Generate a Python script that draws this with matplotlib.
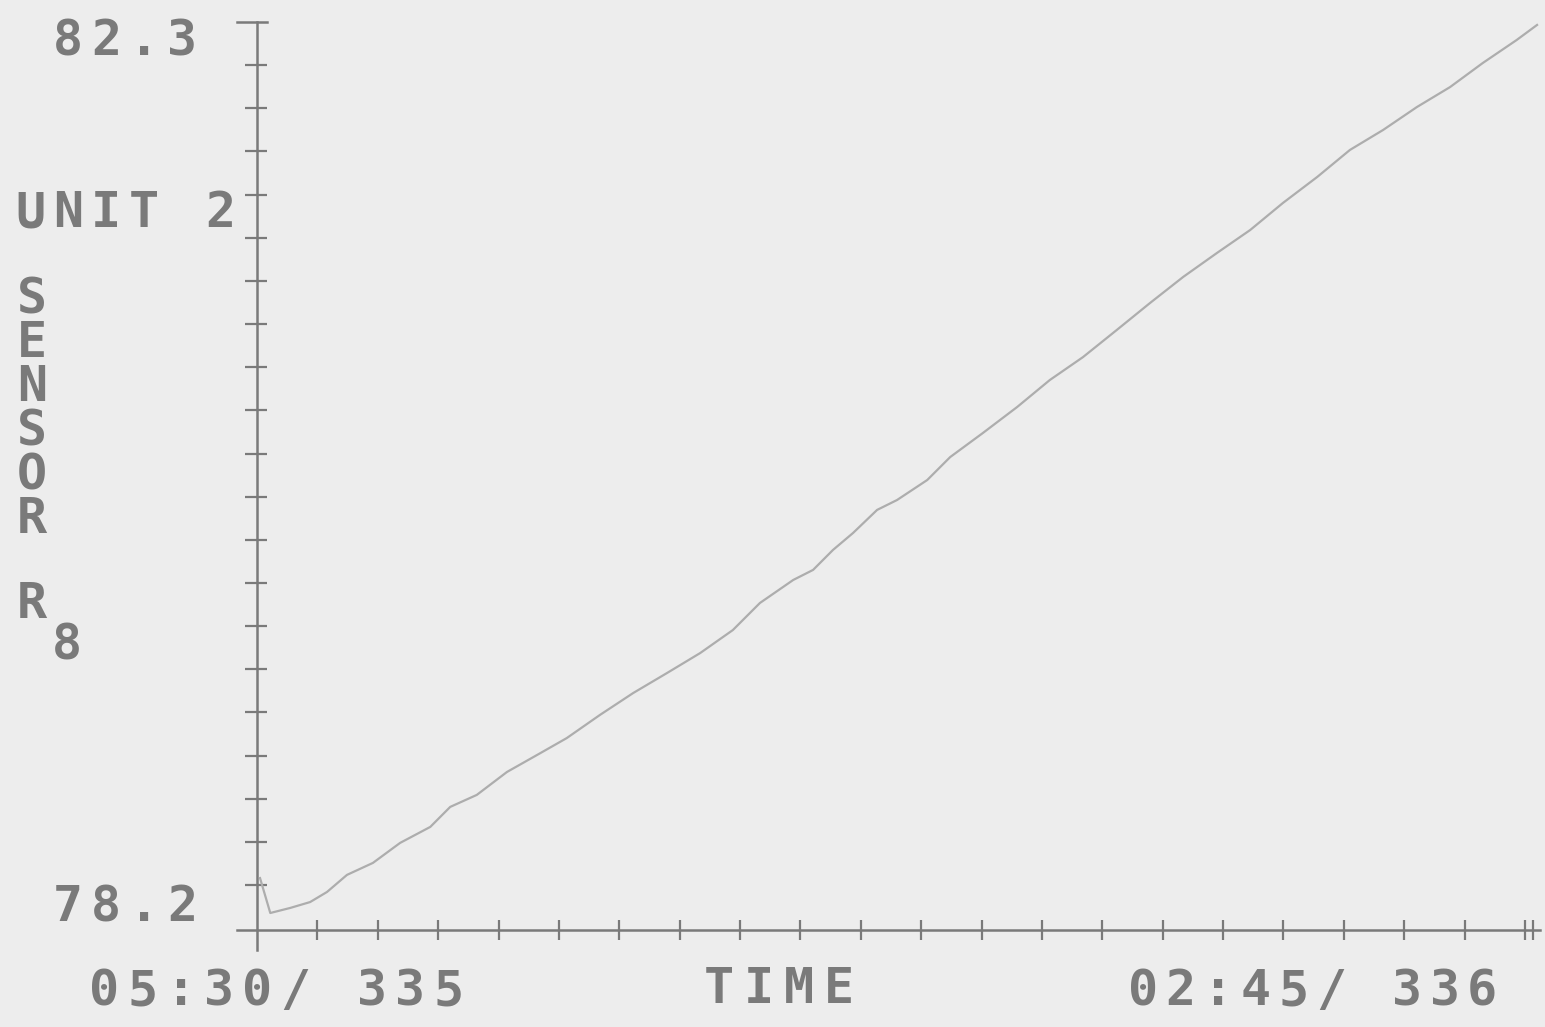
import matplotlib
matplotlib.use("Agg")
import matplotlib.pyplot as plt
import numpy as np

# hours after 05:30 on day 335, sensor reading
hours = [0.05, 0.22, 0.55, 0.88, 1.16, 1.49, 1.92, 2.37, 2.87, 3.20, 3.64, 4.14,
         4.64, 5.13, 5.68, 6.23, 6.79, 7.34, 7.88, 8.33, 8.88, 9.21, 9.54, 9.87,
         10.27, 10.60, 11.10, 11.48, 12.02, 12.59, 13.13, 13.68, 14.24, 14.79,
         15.34, 15.90, 16.45, 16.99, 17.56, 18.10, 18.65, 19.21, 19.76, 20.30,
         20.86, 21.20]
sensor = [78.233, 78.067, 78.091, 78.119, 78.167, 78.248, 78.305, 78.400, 78.476,
          78.571, 78.628, 78.737, 78.818, 78.898, 79.008, 79.112, 79.207, 79.302,
          79.411, 79.540, 79.649, 79.697, 79.792, 79.872, 79.982, 80.029, 80.124,
          80.233, 80.347, 80.471, 80.599, 80.708, 80.837, 80.965, 81.089, 81.203,
          81.312, 81.440, 81.564, 81.692, 81.787, 81.896, 81.991, 82.105, 82.214,
          82.286]

y_min = 78.2
y_max = 82.3
y_labels = ["78.2", "82.3"]
x_labels = ["05:30/ 335", "02:45/ 336"]
x_title = "TIME"
y_title = ["UNIT 2", "SENSOR", "R", "8"]
span_hours = 21.25

W, H = 1545, 1027
bg = "#ededed"
ink = "#7a7a7a"
curve = "#adadad"

fig = plt.figure(figsize=(W / 100, H / 100), dpi=100, facecolor=bg)
ax = fig.add_axes([0, 0, 1, 1])
ax.set_facecolor(bg)
ax.axis("off")

# pixel layout of the old plotter page
x0_px, hour_px = 257, 60.38
y0_px, unit_px = 885, 863 / (y_max - y_min)
ax.set_xlim(-x0_px / hour_px, (W - x0_px) / hour_px)
ax.set_ylim(y_min - (H - y0_px) / unit_px, y_min + y0_px / unit_px)

px_h = 1 / hour_px
px_v = 1 / unit_px
base = y_min - 45 * px_v

# axes
ax.plot([0, 0], [y_min - 65 * px_v, y_max], color=ink, lw=1.8)
ax.plot([-20 * px_h, 10 * px_h], [y_max, y_max], color=ink, lw=1.8)
ax.plot([-20 * px_h, span_hours], [base, base], color=ink, lw=1.8)
yt = np.linspace(y_min, y_max, 21)
ax.hlines(yt[:-1], -12 * px_h, 10 * px_h, color=ink, lw=1.6)
xt = list(range(1, 22)) + [21.13]
ax.vlines(xt, base - 10 * px_v, base + 10 * px_v, color=ink, lw=1.6)

ax.plot(hours, sensor, color=curve, lw=1.6)


def mono(x, y, s, step=38):
    # one character at a time, like the plotter did
    for i, ch in enumerate(s):
        if ch == " ":
            continue
        fig.text((x + i * step) / W, 1 - y / H, ch, ha="center", va="center",
                 family="DejaVu Sans Mono", weight="bold", fontsize=36, color=ink)


mono(68, 41, y_labels[1])
mono(68, 907, y_labels[0])
mono(30, 213, y_title[0])
for i, ch in enumerate(y_title[1]):
    mono(32, 299 + i * 44, ch)
mono(32, 604, y_title[2])
mono(67, 646, y_title[3])
mono(104, 991, x_labels[0], 38.3)
mono(719, 989, x_title, 40)
mono(1143, 991, x_labels[1], 37.7)

fig.savefig("out.png", dpi=100, facecolor=bg)
